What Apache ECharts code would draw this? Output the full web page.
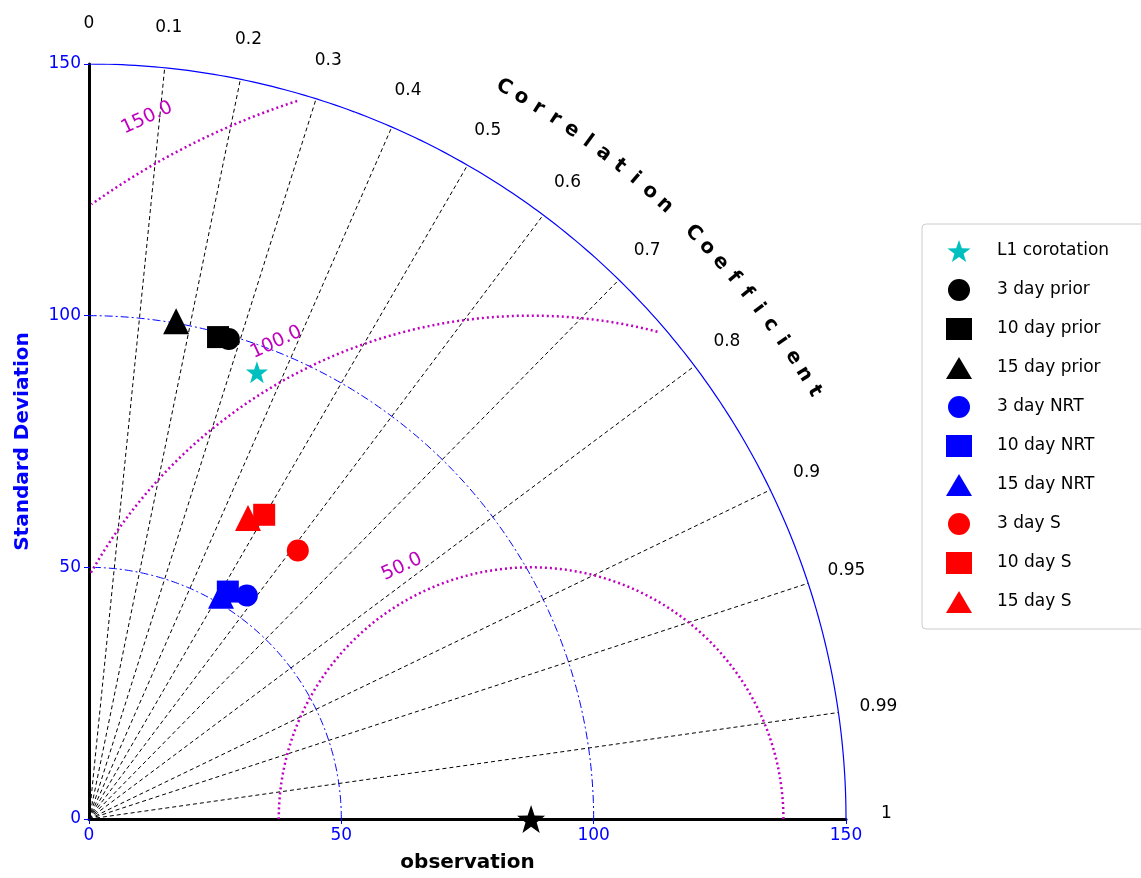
<!DOCTYPE html>
<html><head><meta charset="utf-8">
<script src="https://cdn.jsdelivr.net/npm/echarts@6/dist/echarts.min.js"></script>
<style>html,body{margin:0;background:#fff}#c{width:1141px;height:878px}</style>
</head><body><div id="c"></div>
<script>
// data: standard deviation and correlation of each model
var names = ['L1 corotation','3 day prior','10 day prior','15 day prior','3 day NRT','10 day NRT','15 day NRT','3 day S','10 day S','15 day S'];
var stdDev = [94.8, 99.3, 99.1, 100.4, 54.3, 52.9, 51.5, 67.5, 69.7, 67.6];
var corr   = [0.351, 0.279, 0.258, 0.172, 0.576, 0.52, 0.508, 0.613, 0.498, 0.466];
var colors = ['#00bfbf','#000','#000','#000','#0000ff','#0000ff','#0000ff','#ff0000','#ff0000','#ff0000'];
var obsStd = 87.6;
var corrTicks = [0,0.1,0.2,0.3,0.4,0.5,0.6,0.7,0.8,0.9,0.95,0.99,1];
var stdArcs = [50, 100];
var rmsLevels = [50, 100, 150];

var starPath = 'path://M0,-10L2.35,-3.24L9.51,-3.09L3.8,1.24L5.88,8.09L0,4L-5.88,8.09L-3.8,1.24L-9.51,-3.09L-2.35,-3.24Z';
var shapes = ['star','circle','rect','triangle'];
function shapeOf(i){ var s = i === 0 ? 'star' : shapes[((i-1)%3)+1]; return s === 'star' ? starPath : s; }

var myChart = echarts.init(document.getElementById('c'));
var series = [];
function line(pts, style){
    series.push({type:'line', data:pts, showSymbol:false, silent:true, z:1, lineStyle:style, animation:false});
}
function arc(r){ var p=[]; for (var a=0;a<=90;a+=0.5){var t=a*Math.PI/180;p.push([r*Math.cos(t), r*Math.sin(t)]);} return p; }
stdArcs.forEach(function(r){ line(arc(r), {color:'#0000ff', width:1, type:[8,3,2,3]}); });
line(arc(150), {color:'#0000ff', width:1.2});
corrTicks.slice(1, -1).forEach(function(c){
    var s = Math.sqrt(1-c*c);
    line([[0,0],[150*c,150*s]], {color:'#000', width:1, type:[4,3]});
});
rmsLevels.forEach(function(r){
    var p=[];
    for (var a=0;a<=180;a+=0.5){
        var t=a*Math.PI/180, x=obsStd+r*Math.cos(t), y=r*Math.sin(t);
        if (x>=0 && Math.sqrt(x*x+y*y)<=149) p.push([x,y]);
    }
    line(p, {color:'#c000c0', width:2.5, type:[2,3]});
});
names.forEach(function(n,i){
    var t = Math.acos(corr[i]);
    series.push({name:n, type:'scatter', symbol:shapeOf(i), symbolSize: i===0?22:(i%3===0?26:22),
        itemStyle:{color:colors[i], opacity:1}, z:5, data:[[stdDev[i]*Math.cos(t), stdDev[i]*Math.sin(t)]]});
});
series.push({type:'scatter', symbol:starPath, symbolSize:28, itemStyle:{color:'#000', opacity:1}, z:6, data:[[obsStd,0]], silent:true});

var axisLabel = {color:'#0000ff', fontSize:17, fontFamily:'DejaVu Sans'};
option = {
    animation:false,
    grid:{left:89, top:64, width:757, height:757},
    xAxis:{type:'value', min:0, max:150, interval:50, splitLine:{show:false},
        axisLine:{lineStyle:{color:'#000', width:3}}, axisTick:{lineStyle:{color:'#0000ff'}},
        axisLabel:axisLabel, name:'observation', nameLocation:'middle', nameGap:34,
        nameTextStyle:{fontSize:20, fontWeight:'bold', color:'#000', fontFamily:'DejaVu Sans'}},
    yAxis:{type:'value', min:0, max:150, interval:50, splitLine:{show:false},
        axisLine:{lineStyle:{color:'#000', width:3}}, axisTick:{lineStyle:{color:'#0000ff'}},
        axisLabel:axisLabel, name:'Standard Deviation', nameLocation:'middle', nameGap:56,
        nameTextStyle:{fontSize:20, fontWeight:'bold', color:'#0000ff', fontFamily:'DejaVu Sans'}},
    legend:{data:names, orient:'vertical', left:922, top:224, itemGap:17, itemWidth:26, itemHeight:22,
        padding:[16,40,16,24], backgroundColor:'#fff', borderColor:'#ccc', borderWidth:1, borderRadius:4,
        textStyle:{fontSize:17, color:'#000', fontFamily:'DejaVu Sans', padding:[0,0,0,20]}},
    series:series
};
myChart.setOption(option, true);

var g = [];
function px(x,y){ return myChart.convertToPixel({gridIndex:0},[x,y]); }
corrTicks.forEach(function(c){
    var s=Math.sqrt(1-c*c), p=px(158*c,158*s+(c===1?1:0));
    g.push({type:'text', x:p[0], y:p[1], style:{text:String(c), fill:'#000', fontSize:17, fontFamily:'DejaVu Sans', align:'center', verticalAlign:'middle'}});
});
var word = 'Correlation Coefficient';
for (var k=0;k<word.length;k++){
    var deg = 60.5 - k*(29.9/(word.length-1)), t=deg*Math.PI/180, p=px(167*Math.cos(t),167*Math.sin(t));
    g.push({type:'text', x:p[0], y:p[1], rotation:(deg-90)*Math.PI/180,
        style:{text:word[k], fill:'#000', fontSize:20, fontWeight:'bold', fontFamily:'DejaVu Sans', align:'center', verticalAlign:'middle'}});
}
[['150.0',11.5,139.3],['100.0',37.1,94.7],['50.0',62,50.1]].forEach(function(l){
    var p=px(l[1],l[2]);
    g.push({type:'text', x:p[0], y:p[1], rotation:25*Math.PI/180, z:3,
        style:{text:l[0], fill:'#c000c0', fontSize:19, fontFamily:'DejaVu Sans', align:'center', verticalAlign:'middle'}});
});
myChart.setOption({graphic:g});
</script></body></html>
